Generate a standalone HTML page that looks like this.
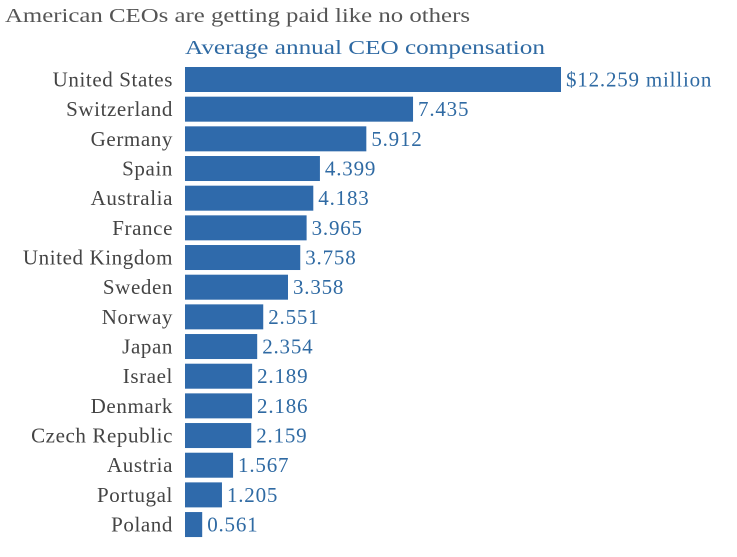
<!DOCTYPE html>
<html><head><meta charset="utf-8"><style>
body{margin:0;background:#fff;}
svg text{font-family:"Liberation Serif",serif;}
</style></head><body>
<svg id="chart" width="737" height="552" xmlns="http://www.w3.org/2000/svg">
<text x="5" y="22" font-size="20" fill="#555" textLength="465" lengthAdjust="spacingAndGlyphs">American CEOs are getting paid like no others</text>
<text x="185" y="54" font-size="20" fill="#2f6aa3" textLength="360" lengthAdjust="spacingAndGlyphs">Average annual CEO compensation</text>
<g id="bars"></g>
</svg>
<script>
const countries=["United States","Switzerland","Germany","Spain","Australia","France","United Kingdom","Sweden","Norway","Japan","Israel","Denmark","Czech Republic","Austria","Portugal","Poland"];
const values=[12.259,7.435,5.912,4.399,4.183,3.965,3.758,3.358,2.551,2.354,2.189,2.186,2.159,1.567,1.205,0.561];
const valueLabels=["$12.259 million","7.435","5.912","4.399","4.183","3.965","3.758","3.358","2.551","2.354","2.189","2.186","2.159","1.567","1.205","0.561"];
const x0=185, pxPerUnit=(561-185)/12.259, rowTop=67, step=29.67, bh=25;
const xs=v=>x0+v*pxPerUnit;
const ys=i=>rowTop+i*step;
const g=document.getElementById('bars');
const NS="http://www.w3.org/2000/svg";
countries.forEach((c,i)=>{
  const r=document.createElementNS(NS,'rect');
  
  
  r.setAttribute('x',x0);r.setAttribute('y',ys(i));
  r.setAttribute('width',xs(values[i])-x0);r.setAttribute('height',bh);
  r.setAttribute('fill','#2f6aab');g.appendChild(r);
  const t=document.createElementNS(NS,'text');
  
  
  t.setAttribute('x',173);t.setAttribute('y',ys(i)+bh/2+7);
  t.setAttribute('text-anchor','end');t.setAttribute('font-size','21');
  t.setAttribute('letter-spacing','0.6');
  t.setAttribute('fill','#444');t.textContent=c;g.appendChild(t);
  const v=document.createElementNS(NS,'text');
  
  
  v.setAttribute('x',xs(values[i])+5);v.setAttribute('y',ys(i)+bh/2+7);
  v.setAttribute('font-size','21');v.setAttribute('letter-spacing','0.8');
  v.setAttribute('fill','#2f6aa3');
  v.textContent=valueLabels[i];g.appendChild(v);
});
</script>
</body></html>
